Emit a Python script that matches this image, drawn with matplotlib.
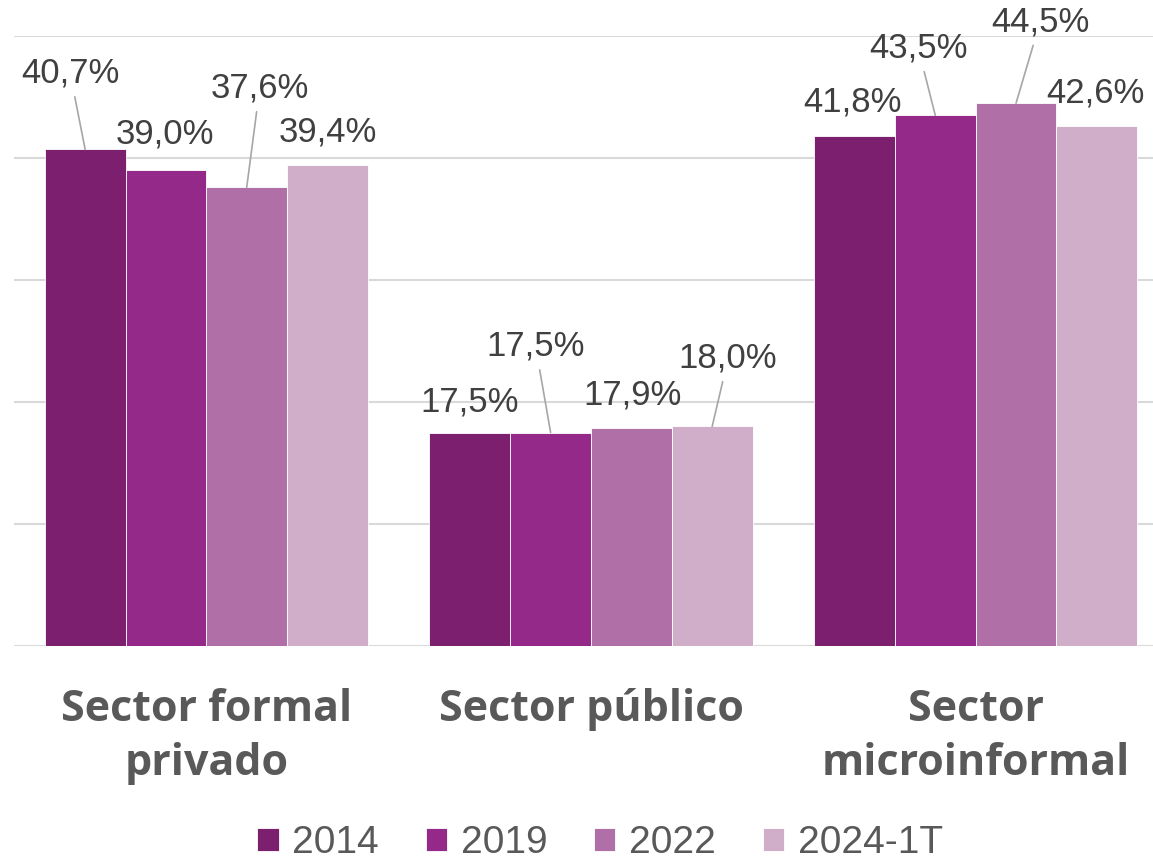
import matplotlib
matplotlib.use('Agg')
import matplotlib.pyplot as plt
import numpy as np

categories = ["Sector formal\nprivado", "Sector público", "Sector\nmicroinformal"]
series = ["2014", "2019", "2022", "2024-1T"]
values = {
    "2014":    [40.7, 17.5, 41.8],
    "2019":    [39.0, 17.5, 43.5],
    "2022":    [37.6, 17.9, 44.5],
    "2024-1T": [39.4, 18.0, 42.6],
}
colors = ["#7B1F6E", "#952989", "#B070A7", "#D0ADC9"]

# label offsets in pixels (dx, dy) from bar top, and whether a leader line is drawn
label_offsets = {
    "2014":    [(-15, 76), (0, 31), (-2, 34)],
    "2019":    [(-1, 36), (-15, 86), (-17, 67)],
    "2022":    [(13, 99), (1, 33), (24, 81)],
    "2024-1T": [(0, 33), (16, 68), (-1, 33)],
}
leaders = {
    "2014":    [True, False, False],
    "2019":    [False, True, True],
    "2022":    [True, False, True],
    "2024-1T": [False, True, False],
}

fig = plt.figure(figsize=(11.53, 8.61), dpi=100)
ax = fig.add_axes([14 / 1153, 1 - 646 / 861, 1154 / 1153, 610 / 861])

x = np.arange(len(categories))
width = 0.21
for i, s in enumerate(series):
    xs = x + (i - 1.5) * width
    ax.bar(xs, values[s], width, color=colors[i], edgecolor="white", linewidth=0.6,
           label=s, zorder=3)
    for j, v in enumerate(values[s]):
        dx, dy = label_offsets[s][j]
        txt = f"{v:.1f}%".replace(".", ",")
        arrow = None
        if leaders[s][j]:
            arrow = dict(arrowstyle="-", color="#A6A6A6", lw=1.2, shrinkA=3, shrinkB=0)
        ax.annotate(txt, xy=(xs[j], v), xytext=(dx * 0.72, dy * 0.72),
                    textcoords="offset points", ha="center", va="center",
                    fontsize=25, color="#404040", family="Liberation Sans",
                    arrowprops=arrow, zorder=4)

ax.set_xlim(-0.5, 2.5)
ax.set_ylim(0, 50)
ax.set_yticks(np.arange(0, 51, 10))
ax.yaxis.grid(True, color="#D9D9D9", lw=1.5, zorder=0)
ax.tick_params(axis="y", left=False, labelleft=False)
ax.tick_params(axis="x", bottom=False, pad=27)
ax.set_xticks(x)
ax.set_xticklabels(categories, fontsize=31, fontweight="bold", color="#595959",
                   family="Open Sans", linespacing=1.32, va="top")
for sp in ax.spines.values():
    sp.set_visible(False)

leg = fig.legend(loc="center", bbox_to_anchor=(600 / 1153, 1 - 843 / 861), ncol=4,
                 frameon=False, prop={"family": "Liberation Sans", "size": 28},
                 handlelength=0.55, handleheight=0.55, handletextpad=0.35, columnspacing=1.2)
for t in leg.get_texts():
    t.set_color("#595959")

fig.savefig("out.png", dpi=100)
